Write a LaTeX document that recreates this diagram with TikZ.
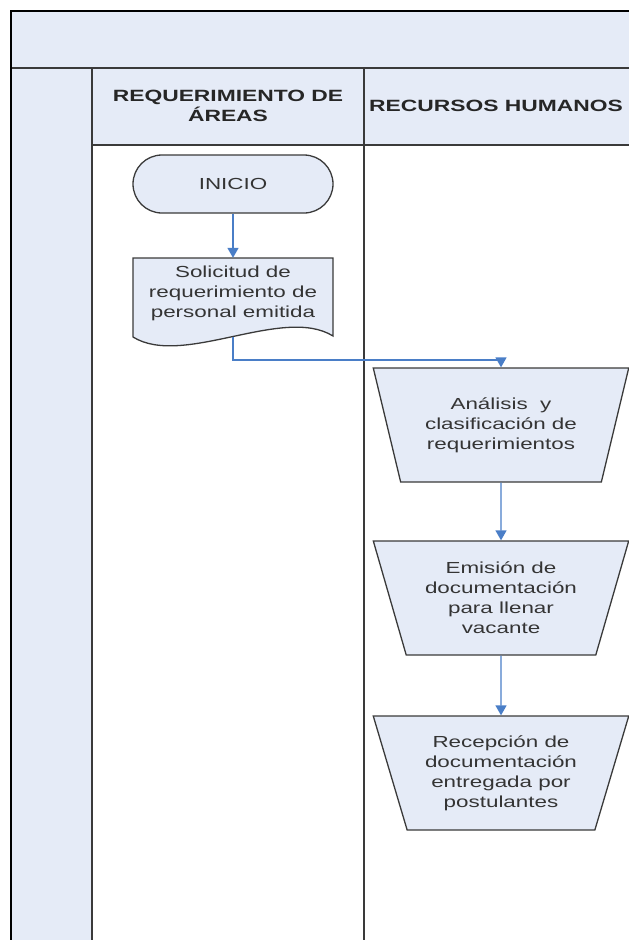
\documentclass[tikz,border=0pt]{standalone}
\usepackage{fontspec}
\setmainfont{Liberation Sans}
\newfontfamily\wideface[FakeStretch=1.4]{Liberation Sans}
\usetikzlibrary{shapes.geometric,arrows.meta}

\definecolor{lanefill}{RGB}{229,235,247}
\definecolor{edgegrey}{RGB}{58,58,58}
\definecolor{flowblue}{RGB}{74,126,199}
\definecolor{inkgrey}{RGB}{52,52,52}

\tikzset{
  laneline/.style={draw=edgegrey, line width=1.8pt},
  frameline/.style={draw=black, line width=2.6pt},
  headtext/.style={font=\wideface\fontsize{16.3}{19.5}\selectfont\bfseries, text=black!85, align=center},
  bodytext/.style={font=\wideface\fontsize{16}{20}\selectfont, text=inkgrey, align=center},
  shapeedge/.style={draw=edgegrey, line width=1.3pt, fill=lanefill},
  terminal/.style={bodytext, shapeedge, rectangle, rounded corners=29pt,
    minimum width=200pt, minimum height=58pt},
  process/.style={bodytext, shapeedge, trapezium, trapezium stretches=true, shape border rotate=180,
    trapezium left angle=70.7, trapezium right angle=70.7,
    minimum width=256pt, minimum height=114pt},
  flow/.style={draw=flowblue, line width=1.4pt, -{Triangle[width=11pt,length=10pt]}},
}

\begin{document}
\begin{tikzpicture}[x=1pt,y=-1pt]
\useasboundingbox (0,0) rectangle (629,940);

% swimlane background bands
\fill[lanefill] (11,11) rectangle (629,68);
\fill[lanefill] (11,68) rectangle (92,940);
\fill[lanefill] (92,68) rectangle (629,145);

% lane separators
\draw[laneline] (11,68) -- (629,68);
\draw[laneline] (92,68) -- (92,940);
\draw[laneline, line width=1.5pt] (364,68) -- (364,940);
\draw[laneline, line width=1.4pt] (92,145) -- (629,145);

% outer frame
\draw[frameline] (11,940) -- (11,11) -- (629,11);

% lane headings
\node[headtext] (laneA) at (228,106) {REQUERIMIENTO DE\\ÁREAS};
\node[headtext] (laneB) at (496,106) {RECURSOS HUMANOS};

% start
\node[terminal] (inicio) at (233,184) {INICIO};

% document outline with wavy lower edge, then its text
\draw[shapeedge] (133,258) -- (333,258) -- (333,336)
  .. controls (283,305) and (183,368) .. (133,337) -- cycle;
\node[bodytext, minimum width=200pt, minimum height=70pt] (doc) at (233,293)
  {Solicitud de\\requerimiento de\\personal emitida};
\coordinate (docbot) at (233,337);
\coordinate (bend) at (233,360);

% processes
\node[process] (analisis) at (501,425) {Análisis\ \ y\\clasificación de\\requerimientos};
\node[process] (emision) at (501,598) {Emisión de\\documentación\\para llenar\\vacante};
\node[process] (recepcion) at (501,773) {Recepción de\\documentación\\entregada por\\postulantes};

% connectors
\draw[flow] (inicio.south) -- (doc.north);
\draw[flow] (docbot) -- (bend) -| (analisis.north);
\draw[flow] (analisis.south) -- (emision.north);
\draw[flow] (emision.south) -- (recepcion.north);
\end{tikzpicture}
\end{document}
